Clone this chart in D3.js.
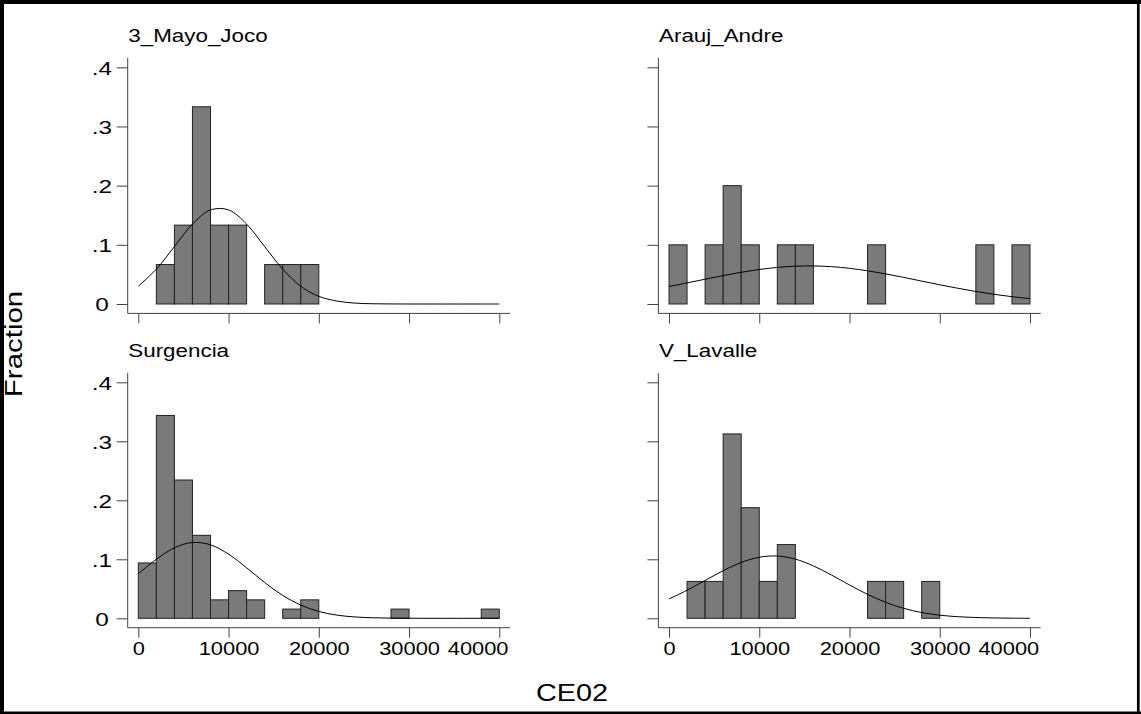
<!DOCTYPE html>
<html>
<head>
<meta charset="utf-8">
<script src="https://cdn.jsdelivr.net/npm/d3@7"></script>
<style>
  body { margin: 0; background: #fff; }
  svg { display: block; font-family: "Liberation Sans", Arial, sans-serif; }
</style>
</head>
<body>
<svg id="svg" width="1141" height="714"></svg>
<script>
// panel names (ubicacion)
var panels = ["3_Mayo_Joco", "Arauj_Andre", "Surgencia", "V_Lavalle"];

// histogram bins of CE02, width 2000
var binStarts = [0, 2000, 4000, 6000, 8000, 10000, 12000, 14000, 16000, 18000,
  20000, 22000, 24000, 26000, 28000, 30000, 32000, 34000, 36000, 38000];

// fraction per bin
var fracMayo = [0, 0.0667, 0.1333, 0.3333, 0.1333, 0.1333, 0, 0.0667, 0.0667, 0.0667,
  0, 0, 0, 0, 0, 0, 0, 0, 0, 0];
var fracArauj = [0.1, 0, 0.1, 0.2, 0.1, 0, 0.1, 0.1, 0, 0,
  0, 0.1, 0, 0, 0, 0, 0, 0.1, 0, 0.1];
var fracSurg = [0.0938, 0.3438, 0.2344, 0.1406, 0.0313, 0.0469, 0.0313, 0, 0.0156, 0.0313,
  0, 0, 0, 0, 0.0156, 0, 0, 0, 0, 0.0156];
var fracLavalle = [0, 0.0625, 0.0625, 0.3125, 0.1875, 0.0625, 0.125, 0, 0, 0,
  0, 0.0625, 0.0625, 0, 0.0625, 0, 0, 0, 0, 0];

// normal overlay, sampled every 2000
var curveX = [0, 2000, 4000, 6000, 8000, 10000, 12000, 14000, 16000, 18000, 20000,
  22000, 24000, 26000, 28000, 30000, 32000, 34000, 36000, 38000, 40000];
var normMayo = [0.030, 0.059, 0.097, 0.135, 0.159, 0.159, 0.135, 0.097, 0.059, 0.030, 0.013,
  0.005, 0.0015, 0.0004, 0.0001, 0, 0, 0, 0, 0, 0];
var normArauj = [0.0295, 0.0356, 0.0419, 0.0480, 0.0536, 0.0583, 0.0618, 0.0639, 0.0643, 0.0631, 0.0603,
  0.0561, 0.0509, 0.0450, 0.0387, 0.0325, 0.0266, 0.0212, 0.0164, 0.0124, 0.0091];
var normSurg = [0.0755, 0.100, 0.1194, 0.1284, 0.1245, 0.1087, 0.0856, 0.0607, 0.0388, 0.0224, 0.0116,
  0.0054, 0.0023, 0.0009, 0.0003, 0.0001, 0, 0, 0, 0, 0];
var normLavalle = [0.0328, 0.0475, 0.0641, 0.0807, 0.0946, 0.1035, 0.1055, 0.1003, 0.0888, 0.0734, 0.0565,
  0.0406, 0.0271, 0.0169, 0.0098, 0.0053, 0.0027, 0.0013, 0.0006, 0.0002, 0.0001];

var fracs = [fracMayo, fracArauj, fracSurg, fracLavalle];
var norms = [normMayo, normArauj, normSurg, normLavalle];

// tick labels
var xTicks = [0, 10000, 20000, 30000, 40000];
var yTicks = [0, 0.1, 0.2, 0.3, 0.4];
var yTickLabels = ["0", ".1", ".2", ".3", ".4"];

var binWidth = 2000;
var sx = 1.28;  // titles are drawn wide
var sxTick = 1.15;
var axisColor = "#444";

var svg = d3.select("#svg");

svg.append("rect").attr("x", 0).attr("y", 0).attr("width", 1141).attr("height", 714).attr("fill", "#fff");

var colX = [[138.3, 499.3], [669, 1030]];
var rowY = [[304, 67.3], [618.3, 382.3]];

panels.forEach(function (name, i) {
  var col = i % 2, row = Math.floor(i / 2);
  var x = d3.scaleLinear().domain([0, 40000]).range(colX[col]);
  var y = d3.scaleLinear().domain([0, 0.4]).range(rowY[row]);
  var g = svg.append("g").classed("panel", true);

  var axLeft = colX[col][0] - 10.6;
  var axRight = colX[col][1] + 10.7;
  var axBottom = rowY[row][0] + 9.4;

  // axis lines
  g.append("line")
    .attr("x1", axLeft).attr("x2", axLeft)
    .attr("y1", rowY[row][1] - 9.3).attr("y2", axBottom)
    .attr("stroke", axisColor).attr("stroke-width", 1);
  g.append("line")
    .attr("x1", axLeft).attr("x2", axRight)
    .attr("y1", axBottom).attr("y2", axBottom)
    .attr("stroke", axisColor).attr("stroke-width", 1);

  // y axis
  var yAxis = g.append("g")
    .attr("transform", "translate(" + axLeft + ",0)")
    .call(d3.axisLeft(y).tickValues(yTicks).tickSize(11).tickSizeOuter(0)
      .tickFormat(function (d, k) { return col === 0 ? yTickLabels[k] : ""; }));
  yAxis.select(".domain").remove();
  yAxis.selectAll(".tick line").attr("stroke", axisColor);
  yAxis.selectAll(".tick text")
    .attr("x", -25.7 / sx)
    .attr("text-anchor", "middle")
    .attr("dy", "0.36em")
    .attr("transform", "scale(" + sx + ",1)")
    .attr("font-size", 19)
    .attr("font-family", null)
    .attr("fill", "#000");

  // x axis
  var xAxis = g.append("g")
    .attr("transform", "translate(0," + axBottom + ")")
    .call(d3.axisBottom(x).tickValues(xTicks).tickSize(10).tickSizeOuter(0)
      .tickFormat(function (d) { return row === 1 ? d3.format("d")(d) : ""; }));
  xAxis.select(".domain").remove();
  xAxis.selectAll(".tick line").attr("stroke", axisColor);
  xAxis.selectAll(".tick text")
    .attr("y", 27.3).attr("dy", 0)
    .attr("transform", "scale(" + sxTick + ",1)")
    .attr("font-size", 19)
    .attr("font-family", null)
    .attr("fill", "#000");
  // last label is pulled inside the axis end
  xAxis.selectAll(".tick text")
    .filter(function (d) { return d === xTicks[xTicks.length - 1]; })
    .attr("text-anchor", "end")
    .attr("x", (axRight - 2 - x(xTicks[xTicks.length - 1])) / sxTick);

  // bars
  var bins = binStarts.map(function (b, k) { return { x0: b, v: fracs[i][k] }; })
    .filter(function (d) { return d.v > 0; });
  g.append("g").selectAll("rect")
    .data(bins)
    .enter()
    .append("rect")
    .attr("x", function (d) { return x(d.x0); })
    .attr("width", function (d) { return x(d.x0 + binWidth) - x(d.x0); })
    .attr("y", function (d) { return y(d.v); })
    .attr("height", function (d) { return y(0) - y(d.v); })
    .attr("fill", "#7a7a7a")
    .attr("stroke", "#222")
    .attr("stroke-width", 1);

  // normal curve
  var line = d3.line()
    .x(function (d, k) { return x(curveX[k]); })
    .y(function (d) { return y(d); })
    .curve(d3.curveCatmullRom);
  g.append("path")
    .attr("d", line(norms[i]))
    .attr("fill", "none")
    .attr("stroke", "#000")
    .attr("stroke-width", 1);

  // panel title
  g.append("text")
    .attr("transform", "translate(" + (axLeft + 0.6) + "," + (row === 0 ? 42.3 : 356.5) + ") scale(" + sx + ",1)")
    .attr("font-size", 17.5)
    .text(name);
});

// axis titles
svg.append("text")
  .attr("transform", "translate(22,344) rotate(-90) scale(" + sx + ",1)")
  .attr("text-anchor", "middle")
  .attr("font-size", 23)
  .text("Fraction");

svg.append("text")
  .attr("transform", "translate(572,701) scale(1.2,1)")
  .attr("text-anchor", "middle")
  .attr("font-size", 24)
  .text("CE02");

// graph title, cut off by the bottom edge as in the source
svg.append("clipPath").attr("id", "clipBottom")
  .append("rect").attr("x", 0).attr("y", 0).attr("width", 1141).attr("height", 711.5);
svg.append("text")
  .attr("clip-path", "url(#clipBottom)")
  .attr("transform", "translate(572,734) scale(1.1,1)")
  .attr("text-anchor", "middle")
  .attr("font-size", 34)
  .text("Histograms by ubicacion");

// border
var border = svg.append("g").attr("stroke", "#000");
border.append("line").attr("x1", 0).attr("x2", 1141).attr("y1", 2).attr("y2", 2).attr("stroke-width", 4);
border.append("line").attr("x1", 2).attr("x2", 2).attr("y1", 0).attr("y2", 714).attr("stroke-width", 4);
border.append("line").attr("x1", 1138.3).attr("x2", 1138.3).attr("y1", 0).attr("y2", 714).attr("stroke-width", 2.7);
border.append("line").attr("x1", 0).attr("x2", 1141).attr("y1", 712.8).attr("y2", 712.8).attr("stroke-width", 2.4);
</script>
</body>
</html>
